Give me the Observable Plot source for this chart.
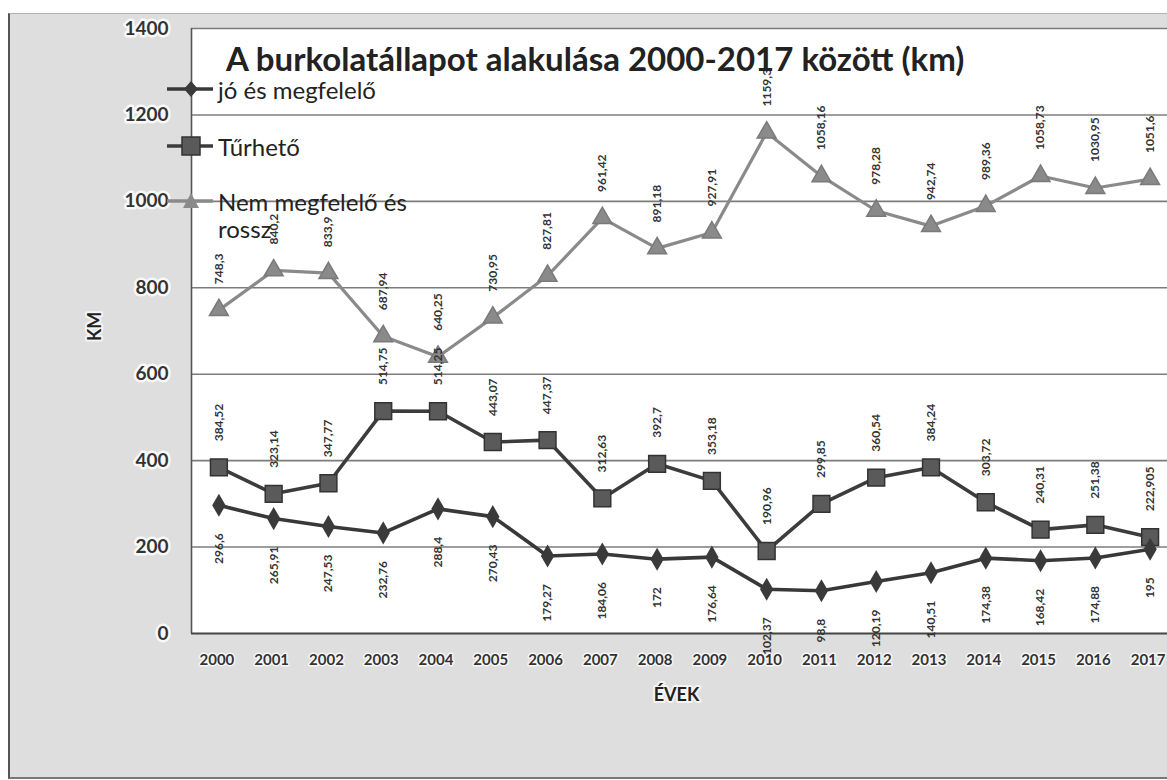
<!DOCTYPE html>
<html><head><meta charset="utf-8">
<script src="https://cdn.jsdelivr.net/npm/d3@7"></script>
<script src="https://cdn.jsdelivr.net/npm/@observablehq/plot@0.6"></script>
<style>
body{margin:0;background:#fff;}
#wrap{position:relative;width:1167px;height:780px;overflow:hidden;background:#fff;font-family:Lato,"Open Sans",sans-serif;}
#bg{position:absolute;left:8px;top:13px;width:1170px;height:763px;background:#dedede;border-left:2px solid #555;border-top:1px solid #b0b0b0;border-bottom:2px solid #777;}
#chart{position:absolute;left:0;top:0;}
#title{position:absolute;left:226px;top:42px;font-weight:700;font-size:33px;color:#222;white-space:nowrap;line-height:1;}
.leg{position:absolute;left:167px;display:flex;align-items:flex-start;font-size:24px;color:#222;line-height:27px;}
.leg svg{flex:none;margin-top:1px;}
.leg span{margin-left:5px;}
</style></head>
<body>
<div id="wrap">
  <div id="bg"></div>
  <div id="chart"></div>
  <div id="title">A burkolatállapot alakulása 2000-2017 között (km)</div>
  <div id="legend"></div>
</div>
<script>
const years = [2000,2001,2002,2003,2004,2005,2006,2007,2008,2009,2010,2011,2012,2013,2014,2015,2016,2017];
const joValues = [296.6,265.91,247.53,232.76,288.4,270.43,179.27,184.06,172,176.64,102.37,98.8,120.19,140.51,174.38,168.42,174.88,195];
const turhetoValues = [384.52,323.14,347.77,514.75,514.25,443.07,447.37,312.63,392.7,353.18,190.96,299.85,360.54,384.24,303.72,240.31,251.38,222.905];
const rosszValues = [748.3,840.2,833.9,687.94,640.25,730.95,827.81,961.42,891.18,927.91,1159.3,1058.16,978.28,942.74,989.36,1058.73,1030.95,1051.6];
const seriesNames = ["jó és megfelelő","Tűrhető","Nem megfelelő és rossz"];
const yTicks = [0,200,400,600,800,1000,1200,1400];
const yLabel = "KM";
const xLabel = "ÉVEK";

const fmt = v => String(v).replace(".", ",");
const mk = vals => years.map((yr,i)=>({year:yr, value:vals[i], label:fmt(vals[i])}));
const jo = mk(joValues), tur = mk(turhetoValues), rossz = mk(rosszValues);

const font = "Lato, 'Open Sans', sans-serif";
const lbl = {x:"year", y:"value", text:"label", rotate:-90, fontSize:12, fontWeight:"bold", fill:"#333", fontFamily:font};

const chart = Plot.plot({
  width:1167, height:780,
  marginLeft:191, marginRight:0, marginTop:28, marginBottom:147,
  style:{background:"transparent", overflow:"visible", fontFamily:font},
  x:{type:"linear", domain:[1999.5,2017.5], range:[191,1177], axis:null},
  y:{domain:[0,1400], axis:null},
  marks:[
    Plot.frame({fill:"white", stroke:null}),
    Plot.ruleY(yTicks.slice(1), {stroke:"#7c7c7c", strokeWidth:1.6}),
    Plot.ruleX([1999.5], {stroke:"#555", strokeWidth:1.6}),
    Plot.ruleY([0], {stroke:"#444", strokeWidth:2.2}),
    Plot.line(rossz, {x:"year", y:"value", stroke:"#8a8a8a", strokeWidth:3.2}),
    Plot.dot(rossz, {x:"year", y:"value", symbol:"triangle", r:7, fill:"#8a8a8a", stroke:"#7a7a7a"}),
    Plot.line(tur, {x:"year", y:"value", stroke:"#3c3c3c", strokeWidth:3.6}),
    Plot.dot(tur, {x:"year", y:"value", symbol:"square", r:9.5, fill:"#5a5a5a", stroke:"#333", strokeWidth:1.5}),
    Plot.line(jo, {x:"year", y:"value", stroke:"#383838", strokeWidth:3.6}),
    Plot.dot(jo, {x:"year", y:"value", symbol:"diamond", r:7, fill:"#3a3a3a"}),
    Plot.text(rossz, {...lbl, textAnchor:"start", dy:-26}),
    Plot.text(tur, {...lbl, textAnchor:"start", dy:-26}),
    Plot.text(jo, {...lbl, textAnchor:"end", dy:28}),
    Plot.text(yTicks, {y:d=>d, frameAnchor:"left", dx:-23, textAnchor:"end", text:d=>String(d), fontSize:19, fontWeight:"bold", fill:"#333", stroke:"white", strokeWidth:5, strokeOpacity:0.85}),
    Plot.text(years, {x:d=>d, frameAnchor:"bottom", dy:31, dx:-2, text:d=>String(d), fontSize:15, fontWeight:"bold", fill:"#333", stroke:"white", strokeWidth:3, strokeOpacity:0.8}),
    Plot.text([yLabel], {frameAnchor:"left", dx:-96, dy:10, rotate:-90, fontSize:18, fontWeight:"bold", fill:"#222", stroke:"white", strokeWidth:4, strokeOpacity:0.7}),
    Plot.text([xLabel], {frameAnchor:"bottom", dx:-3, dy:67, fontSize:18, fontWeight:"bold", fill:"#222", stroke:"white", strokeWidth:4, strokeOpacity:0.7})
  ]
});
document.getElementById("chart").appendChild(chart);

// legend
const legendItems = [
  {name:seriesNames[0], top:76, line:"#383838", sym:'<polygon points="24,4 31,12 24,20 17,12" fill="#3a3a3a"/>'},
  {name:seriesNames[1], top:133, line:"#3c3c3c", sym:'<rect x="15" y="3" width="18" height="18" fill="#5a5a5a" stroke="#333" stroke-width="1.5"/>'},
  {name:"Nem megfelelő és<br>rossz", top:188, line:"#8a8a8a", sym:'<polygon points="24,4 32,19 16,19" fill="#8a8a8a"/>'}
];
const leg = document.getElementById("legend");
for (const it of legendItems) {
  const d = document.createElement("div");
  d.className = "leg";
  d.style.top = it.top + "px";
  d.innerHTML = `<svg width="46" height="24"><line x1="0" x2="46" y1="12" y2="12" stroke="${it.line}" stroke-width="3.4"/>${it.sym}</svg><span>${it.name}</span>`;
  leg.appendChild(d);
}
</script>
</body></html>
